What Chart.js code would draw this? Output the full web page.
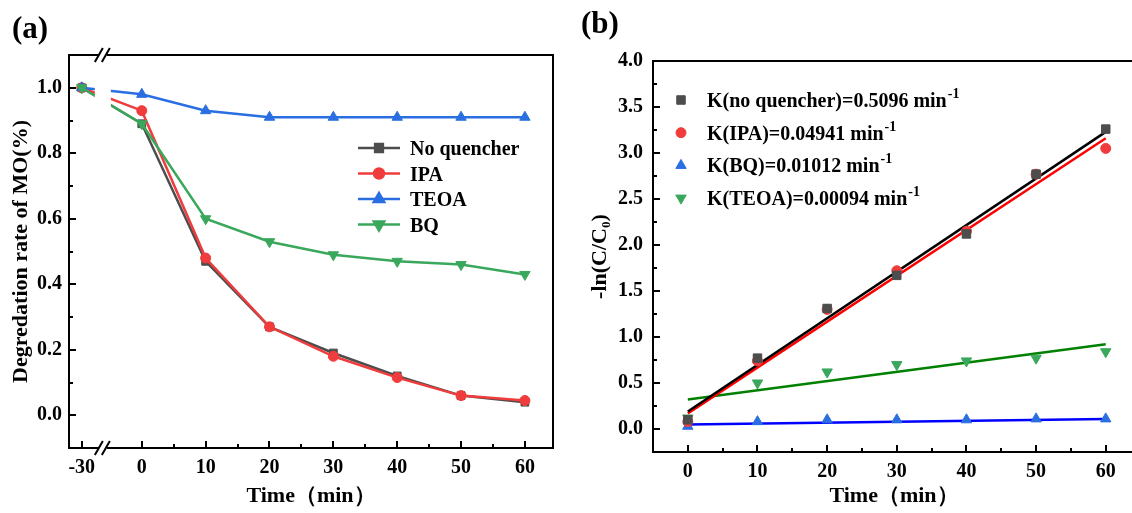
<!DOCTYPE html>
<html>
<head>
<meta charset="utf-8">
<script src="https://cdn.jsdelivr.net/npm/chart.js@4.4.1/dist/chart.umd.min.js"></script>
<style>
  html, body { margin: 0; padding: 0; background: #fff; overflow: hidden; width: 1132px; height: 513px; }
  #wrapA { position: absolute; left: 0; top: 0; width: 566px; height: 513px; }
  #wrapB { position: absolute; left: 567px; top: 0; width: 575px; height: 513px; }
</style>
</head>
<body>
<div id="wrapA"><canvas id="chartA" width="566" height="513"></canvas></div>
<div id="wrapB"><canvas id="chartB" width="575" height="513"></canvas></div>
<script>
// panel (a) - degradation rate
const timeA = [-30, 0, 10, 20, 30, 40, 50, 60];
const tickLabelsA = ['-30', '0', '10', '20', '30', '40', '50', '60'];
const namesA = ['No quencher', 'IPA', 'TEOA', 'BQ'];
const noQuencher = [1.0, 0.89, 0.47, 0.27, 0.19, 0.12, 0.06, 0.04];
const ipa = [1.0, 0.93, 0.48, 0.27, 0.18, 0.115, 0.06, 0.045];
const teoa = [1.0, 0.98, 0.93, 0.91, 0.91, 0.91, 0.91, 0.91];
const bq = [1.0, 0.89, 0.60, 0.53, 0.49, 0.47, 0.46, 0.43];
const yTicksA = [0, 0.2, 0.4, 0.6, 0.8, 1.0];
const yMinorA = [0.1, 0.3, 0.5, 0.7, 0.9];
const xMinorA = [5, 15, 25, 35, 45, 55];

// panel (b) - -ln(C/C0) and linear fits
const timeB = [0, 10, 20, 30, 40, 50, 60];
const lnNoQ = [0.10, 0.77, 1.31, 1.67, 2.12, 2.77, 3.26];
const lnIPA = [0.08, 0.74, 1.30, 1.72, 2.15, 2.77, 3.05];
const lnBQ = [0.03, 0.08, 0.10, 0.10, 0.10, 0.11, 0.11];
const lnTEOA = [0.12, 0.50, 0.62, 0.70, 0.74, 0.77, 0.84];
const fitTime = [0, 60];
const fitNoQ = [0.19, 3.23];
const fitIPA = [0.17, 3.16];
const fitBQ = [0.05, 0.11];
const fitTEOA = [0.32, 0.92];
const labelsB = ['K(no quencher)=0.5096 min', 'K(IPA)=0.04941 min', 'K(BQ)=0.01012 min', 'K(TEOA)=0.00094 min'];
const yTicksB = [0, 0.5, 1.0, 1.5, 2.0, 2.5, 3.0, 3.5, 4.0];
const yMinorB = [0.25, 0.75, 1.25, 1.75, 2.25, 2.75, 3.25, 3.75];
const xTicksB = [0, 10, 20, 30, 40, 50, 60];
const xMinorB = [5, 15, 25, 35, 45, 55];

const SERIF = '"Liberation Serif", "Times New Roman", serif';
const GRAY = '#4d4d4d', RED = '#f03c3c', BLUE = '#2a6fe2', GREEN = '#3aa85c';

// the -30 point sits left of the axis break
const xA = t => t < 0 ? -9.4 : t;
const BREAK_A = -6.1;

function pts(xs, ys, fx) {
  return xs.map((t, i) => ({ x: fx ? fx(t) : t, y: ys[i] }));
}

function drawMarker(ctx, style, rot, r, x, y, color) {
  ctx.fillStyle = color;
  ctx.strokeStyle = color;
  Chart.helpers.drawPoint(ctx, { pointStyle: style, rotation: rot, radius: r, borderWidth: 1 }, x, y);
}

const framePlugin = {
  id: 'frame',
  afterDatasetsDraw(chart, args, o) {
    const { ctx, chartArea: a, scales: { x, y } } = chart;
    ctx.save();
    let bx;
    if (o.breakAt !== undefined) {
      bx = x.getPixelForValue(o.breakAt);
      ctx.fillStyle = '#fff';
      ctx.fillRect(bx - 8, a.top + 1, 16, a.bottom - a.top - 2);
    }
    ctx.strokeStyle = '#000';
    ctx.lineWidth = 2;
    ctx.strokeRect(a.left, a.top, a.right - a.left, a.bottom - a.top);
    const tick = (px, py, dx, dy) => {
      ctx.beginPath(); ctx.moveTo(px, py); ctx.lineTo(px + dx, py + dy); ctx.stroke();
    };
    o.xMajor.forEach(v => tick(Math.round(x.getPixelForValue(v)), a.bottom, 0, -7));
    o.xMinor.forEach(v => tick(Math.round(x.getPixelForValue(v)), a.bottom, 0, -4));
    o.yMajor.forEach(v => tick(a.left, Math.round(y.getPixelForValue(v)), 7, 0));
    o.yMinor.forEach(v => tick(a.left, Math.round(y.getPixelForValue(v)), 4, 0));
    if (bx !== undefined) {
      [a.top, a.bottom].forEach(yy => {
        ctx.fillStyle = '#fff';
        ctx.fillRect(bx - 4, yy - 2, 8, 4);
        ctx.lineWidth = 2;
        tick(bx - 8, yy + 7, 8, -14);
        tick(bx - 1, yy + 7, 8, -14);
      });
    }
    ctx.restore();
  },
  afterDraw(chart, args, o) {
    const { ctx } = chart;
    ctx.save();
    ctx.fillStyle = '#000';
    ctx.font = 'bold 31px ' + SERIF;
    ctx.textBaseline = 'middle';
    ctx.fillText(o.panel, o.panelX, o.panelY);
    o.legend.forEach((it, i) => {
      const cy = o.legY + i * o.legStep;
      if (it.line) {
        ctx.strokeStyle = it.color;
        ctx.lineWidth = 2.5;
        ctx.beginPath(); ctx.moveTo(o.legX - 21, cy); ctx.lineTo(o.legX + 21, cy); ctx.stroke();
      }
      drawMarker(ctx, it.style, it.rot, it.r, o.legX, cy, it.color);
      ctx.fillStyle = '#000';
      ctx.font = 'bold 20px ' + SERIF;
      ctx.textBaseline = 'alphabetic';
      ctx.fillText(it.text, o.textX, cy + 7);
      if (it.sup) {
        const w = ctx.measureText(it.text).width;
        ctx.font = 'bold 14px ' + SERIF;
        ctx.fillText(it.sup, o.textX + w + 1, cy - 2);
      }
    });
    ctx.restore();
  }
};

const tickFont = { family: SERIF, size: 20, weight: 'bold' };
const titleFont = { family: SERIF, size: 22, weight: 'bold' };
const noGrid = { display: false, drawTicks: false };

// ---------- panel (a) ----------
function lineSet(label, ys, color, style, rot, r, order) {
  return {
    label, data: pts(timeA, ys, xA), borderColor: color, backgroundColor: color,
    borderWidth: 2.5, pointStyle: style, pointRotation: rot, pointRadius: r,
    pointBorderWidth: 1, pointBackgroundColor: color, pointBorderColor: color,
    tension: 0, order
  };
}

new Chart(document.getElementById('chartA'), {
  type: 'line',
  data: {
    datasets: [
      lineSet(namesA[0], noQuencher, GRAY, 'rect', 0, 5.5, 4),
      lineSet(namesA[1], ipa, RED, 'circle', 0, 5, 3),
      lineSet(namesA[2], teoa, BLUE, 'triangle', 0, 6, 2),
      lineSet(namesA[3], bq, GREEN, 'triangle', 180, 6, 1)
    ]
  },
  options: {
    responsive: false, animation: false,
    layout: { padding: { top: 55, right: 13, left: 0, bottom: 0 } },
    plugins: {
      legend: { display: false }, tooltip: { enabled: false },
      frame: {
        breakAt: BREAK_A,
        xMajor: timeA.map(xA), xMinor: xMinorA, yMajor: yTicksA, yMinor: yMinorA,
        panel: '(a)', panelX: 12, panelY: 30,
        legX: 379, legY: 148, legStep: 25.5, textX: 410,
        legend: [
          { text: namesA[0], color: GRAY, style: 'rect', rot: 0, r: 5.5, line: true },
          { text: namesA[1], color: RED, style: 'circle', rot: 0, r: 5, line: true },
          { text: namesA[2], color: BLUE, style: 'triangle', rot: 0, r: 6, line: true },
          { text: namesA[3], color: GREEN, style: 'triangle', rot: 180, r: 6, line: true }
        ]
      }
    },
    scales: {
      x: {
        type: 'linear', min: -11.4, max: 64.4,
        afterFit: s => { s.height = 65; },
        afterBuildTicks: s => { s.ticks = timeA.map(t => ({ value: xA(t) })); },
        ticks: { callback: (v, i) => tickLabelsA[i], font: tickFont, color: '#000', padding: 8, maxRotation: 0, autoSkip: false },
        grid: noGrid, border: { display: false },
        title: { display: true, text: 'Time（min）', font: titleFont, color: '#000', padding: { top: 0, bottom: 3 } }
      },
      y: {
        type: 'linear', min: -0.1, max: 1.1,
        afterFit: s => { s.width = 69; },
        afterBuildTicks: s => { s.ticks = yTicksA.map(v => ({ value: v })); },
        ticks: { callback: v => v.toFixed(1), font: tickFont, color: '#000', padding: 7, autoSkip: false },
        grid: noGrid, border: { display: false },
        title: { display: true, text: 'Degredation rate of MO(%)', font: titleFont, color: '#000', padding: { top: 8, bottom: 0 } }
      }
    }
  },
  plugins: [framePlugin]
});

// ---------- panel (b) ----------
function scatterSet(label, ys, color, style, rot, r) {
  return {
    type: 'scatter', label, data: pts(timeB, ys), showLine: false,
    pointStyle: style, pointRotation: rot, pointRadius: r, pointBorderWidth: 1,
    pointBackgroundColor: color, pointBorderColor: color, order: 1
  };
}
function fitSet(label, ys, color) {
  return {
    type: 'line', label, data: pts(fitTime, ys), borderColor: color, borderWidth: 2.5,
    pointRadius: 0, tension: 0, order: 2
  };
}

new Chart(document.getElementById('chartB'), {
  type: 'scatter',
  data: {
    datasets: [
      fitSet('fit no quencher', fitNoQ, '#000000'),
      fitSet('fit IPA', fitIPA, '#ff0000'),
      fitSet('fit BQ', fitBQ, '#0000ff'),
      fitSet('fit TEOA', fitTEOA, '#008000'),
      scatterSet(labelsB[0], lnNoQ, GRAY, 'rect', 0, 6),
      scatterSet(labelsB[1], lnIPA, RED, 'circle', 0, 5),
      scatterSet(labelsB[2], lnBQ, BLUE, 'triangle', 0, 6),
      scatterSet(labelsB[3], lnTEOA, GREEN, 'triangle', 180, 6)
    ]
  },
  options: {
    responsive: false, animation: false,
    layout: { padding: { top: 61, right: 0, left: 0, bottom: 0 } },
    plugins: {
      legend: { display: false }, tooltip: { enabled: false },
      frame: {
        xMajor: xTicksB, xMinor: xMinorB, yMajor: yTicksB, yMinor: yMinorB,
        panel: '(b)', panelX: 14, panelY: 25,
        legX: 114, legY: 100, legStep: 32.7, textX: 140,
        legend: [
          { text: labelsB[0], sup: '-1', color: GRAY, style: 'rect', rot: 0, r: 6 },
          { text: labelsB[1], sup: '-1', color: RED, style: 'circle', rot: 0, r: 5 },
          { text: labelsB[2], sup: '-1', color: BLUE, style: 'triangle', rot: 0, r: 6 },
          { text: labelsB[3], sup: '-1', color: GREEN, style: 'triangle', rot: 180, r: 6 }
        ]
      }
    },
    scales: {
      x: {
        type: 'linear', min: -5, max: 64.2,
        afterFit: s => { s.height = 61; },
        afterBuildTicks: s => { s.ticks = xTicksB.map(v => ({ value: v })); },
        ticks: { font: tickFont, color: '#000', padding: 8, maxRotation: 0, autoSkip: false },
        grid: noGrid, border: { display: false },
        title: { display: true, text: 'Time（min）', font: titleFont, color: '#000', padding: { top: 0, bottom: 3 } }
      },
      y: {
        type: 'linear', min: -0.25, max: 4.0,
        afterFit: s => { s.width = 86; },
        afterBuildTicks: s => { s.ticks = yTicksB.map(v => ({ value: v })); },
        ticks: { callback: v => v.toFixed(1), font: tickFont, color: '#000', padding: 10, autoSkip: false },
        grid: noGrid, border: { display: false },
        title: { display: true, text: '-ln(C/C₀)', font: titleFont, color: '#000', padding: { top: 20, bottom: 0 } }
      }
    }
  },
  plugins: [framePlugin]
});
</script>
</body>
</html>
